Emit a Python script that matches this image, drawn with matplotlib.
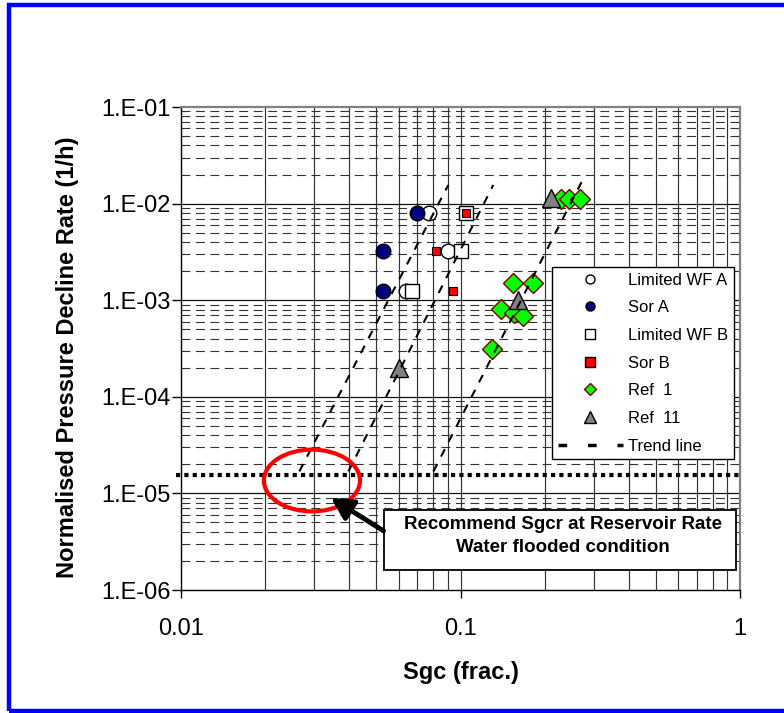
import matplotlib
matplotlib.use('Agg')
import matplotlib.pyplot as plt
import numpy as np
from matplotlib.patches import Ellipse, Rectangle
from matplotlib.lines import Line2D
from matplotlib.ticker import FixedLocator, FuncFormatter, NullFormatter

plt.rcParams['font.family'] = ['Liberation Sans', 'DejaVu Sans']

# ---------------- data ----------------
lwfa_x = [0.077, 0.090, 0.064]
lwfa_y = [8.0e-3, 3.2e-3, 1.25e-3]
sora_x = [0.070, 0.053, 0.053]
sora_y = [8.0e-3, 3.2e-3, 1.25e-3]
lwfb_x = [0.105, 0.100, 0.067]
lwfb_y = [8.0e-3, 3.2e-3, 1.25e-3]
sorb_x = [0.1045, 0.0815, 0.094]
sorb_y = [8.0e-3, 3.2e-3, 1.25e-3]
ref1_x = [0.229, 0.245, 0.268, 0.154, 0.181, 0.140, 0.155, 0.167, 0.130]
ref1_y = [1.12e-2, 1.12e-2, 1.12e-2, 1.5e-3, 1.5e-3, 8.1e-4, 7.3e-4, 6.8e-4, 3.1e-4]
ref11_x = [0.21, 0.160, 0.060]
ref11_y = [1.15e-2, 1.0e-3, 1.98e-4]
trend1_x = [0.0265, 0.0904]
trend1_y = [1.69e-5, 1.56e-2]
trend2_x = [0.0397, 0.131]
trend2_y = [1.69e-5, 1.56e-2]
trend3_x = [0.080, 0.2715]
trend3_y = [1.69e-5, 1.69e-2]
limit_x = [0.0096, 1.0]
limit_y = [1.54e-5, 1.54e-5]
ellipse_center = (0.0294, 1.36e-5)
arrow_tip = (0.0344, 9.0e-6)
arrow_tail = (0.0530, 4.1e-6)
x_ticks = [0.01, 0.1, 1]
x_ticklabels = ['0.01', '0.1', '1']
y_ticks = [1e-6, 1e-5, 1e-4, 1e-3, 1e-2, 1e-1]
annot_lines = ['Recommend Sgcr at Reservoir Rate', 'Water flooded condition']

# ---------------- figure ----------------
fig = plt.figure(figsize=(7.84, 7.13), dpi=100)
ax = fig.add_axes([0.2309, 0.1725, 0.7130, 0.6774])
ax.set_xscale('log')
ax.set_yscale('log')
ax.set_xlim(0.01, 1)
ax.set_ylim(1e-6, 1e-1)

# grid
minor_x = [k * 10.0 ** e for e in (-2, -1) for k in range(2, 10)]
minor_y = [k * 10.0 ** e for e in range(-6, -1) for k in range(2, 10)]
for xv in minor_x + [0.1]:
    ax.axvline(xv, color='#333333', lw=0.85, zorder=1)
for yv in minor_y:
    ax.axhline(yv, color='#333333', lw=0.8, ls=(0, (8, 5)), zorder=1)
for yv in y_ticks[1:-1]:
    ax.axhline(yv, color='#111111', lw=0.9, zorder=1)

ax.xaxis.set_major_locator(FixedLocator(x_ticks))
ax.xaxis.set_major_formatter(FuncFormatter(lambda v, p: x_ticklabels[x_ticks.index(v)] if v in x_ticks else ''))
ax.xaxis.set_minor_formatter(NullFormatter())
ax.yaxis.set_major_locator(FixedLocator(y_ticks))
ax.yaxis.set_major_formatter(FuncFormatter(lambda v, p: "1.E%03d" % int(np.round(np.log10(v)))))
ax.yaxis.set_minor_formatter(NullFormatter())
ax.tick_params(axis='both', which='minor', length=0)
ax.tick_params(axis='x', which='major', direction='out', length=6, width=1, labelsize=17, pad=14)
ax.tick_params(axis='y', which='major', direction='out', length=6.5, width=1, labelsize=17, pad=1)

for s in ('left', 'bottom'):
    ax.spines[s].set_color('black')
    ax.spines[s].set_linewidth(1.0)
for s in ('top', 'right'):
    ax.spines[s].set_color('#808080')
    ax.spines[s].set_linewidth(1.6)

# data series
ax.plot(lwfa_x, lwfa_y, 'o', ms=10.5, mfc='white', mec='black', mew=1.0, zorder=3)
ax.plot(sora_x, sora_y, 'o', ms=10.5, mfc='#000080', mec='black', mew=1.0, zorder=3)
ax.plot(lwfb_x, lwfb_y, 's', ms=10.5, mfc='white', mec='black', mew=1.0, zorder=3)
ax.plot(sorb_x, sorb_y, 's', ms=6, mfc='#FF0000', mec='black', mew=0.8, zorder=3)
ax.plot(ref1_x, ref1_y, 'D', ms=10, mfc='#00FF00', mec='#800000', mew=1.0, zorder=3)
ax.plot(ref11_x, ref11_y, '^', ms=13.5, mfc='#808080', mec='black', mew=1.0, zorder=3)

for tx, ty in ((trend1_x, trend1_y), (trend2_x, trend2_y), (trend3_x, trend3_y)):
    ax.plot(tx, ty, color='black', lw=1.5, ls=(0, (4, 4)), zorder=4)

ax.plot(limit_x, limit_y, color='black', lw=3, ls=(0, (1, 1)), dash_capstyle='butt',
        zorder=4, clip_on=False)

# red ellipse
fig.canvas.draw()
c_ax = ax.transAxes.inverted().transform(ax.transData.transform(ellipse_center))
ax.add_patch(Ellipse(c_ax, 0.172, 0.128, transform=ax.transAxes, fill=False,
                     edgecolor='#FF0000', lw=3, zorder=5))

# annotation box
ax.add_patch(Rectangle((0.3631, 0.0414), 0.6297, 0.1242, transform=ax.transAxes,
                       facecolor='white', edgecolor='black', lw=1.3, zorder=6))
ax.text(0.6834, 0.1366, annot_lines[0], transform=ax.transAxes, ha='center', va='center',
        fontsize=13.5, fontweight='bold', zorder=7)
ax.text(0.6834, 0.089, annot_lines[1], transform=ax.transAxes, ha='center', va='center',
        fontsize=13.5, fontweight='bold', zorder=7)
ax.annotate('', xy=arrow_tip, xytext=arrow_tail, xycoords='data', textcoords='data',
            arrowprops=dict(arrowstyle='-|>,head_length=1.3,head_width=0.7', lw=3.5,
                            color='black', shrinkA=0, shrinkB=0), zorder=7)

# legend
handles = [
    Line2D([], [], ls='none', marker='o', ms=6.5, mfc='white', mec='black', mew=1.0),
    Line2D([], [], ls='none', marker='o', ms=6.5, mfc='#000080', mec='black', mew=1.0),
    Line2D([], [], ls='none', marker='s', ms=6.5, mfc='white', mec='black', mew=1.0),
    Line2D([], [], ls='none', marker='s', ms=6.5, mfc='#FF0000', mec='black', mew=1.0),
    Line2D([], [], ls='none', marker='D', ms=6, mfc='#00FF00', mec='#800000', mew=1.0),
    Line2D([], [], ls='none', marker='^', ms=8, mfc='#808080', mec='black', mew=1.0),
    Line2D([], [], color='black', lw=2.5, ls=(0, (2.5, 6))),
]
labels = ['Limited WF A', 'Sor A', 'Limited WF B', 'Sor B', 'Ref  1', 'Ref  11', 'Trend line']
leg = ax.legend(handles, labels, loc='upper left', bbox_to_anchor=(0.6632, 0.6694),
                borderaxespad=0, fontsize=12, handlelength=3.9, handletextpad=0.3,
                borderpad=0.35, labelspacing=0.76, fancybox=False, framealpha=1,
                edgecolor='black')
leg.get_frame().set_linewidth(1.0)
leg.set_zorder(8)

# axis labels
fig.text(68 / 784, 1 - 357 / 713, 'Normalised Pressure Decline Rate (1/h)', rotation=90,
         ha='center', va='center', fontsize=17, fontweight='bold')
fig.text(461 / 784, 1 - 673 / 713, 'Sgc (frac.)', ha='center', va='center',
         fontsize=17, fontweight='bold')

# blue outer border
fig.patches.append(Rectangle((8.5 / 784, 1 - 711 / 713), 1.1, (711 - 5) / 713,
                             transform=fig.transFigure, fill=False, edgecolor='#0000FF',
                             lw=3.2, zorder=10))

fig.savefig('out.png', dpi=100)
